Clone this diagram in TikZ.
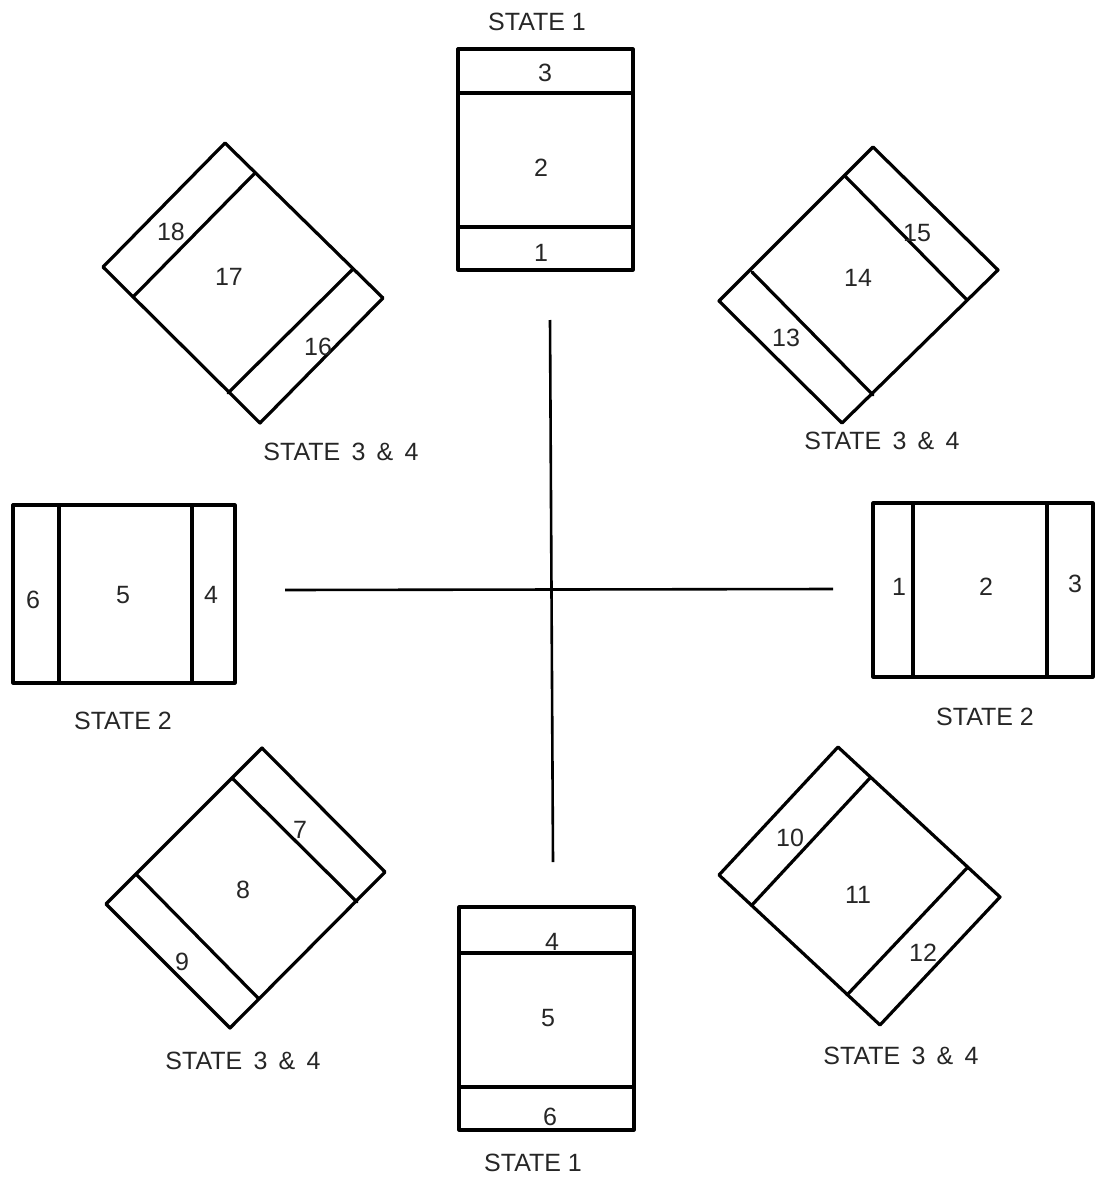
\documentclass[tikz,border=0pt]{standalone}
\usepackage{fontspec}
\setmainfont{Liberation Sans}
\newcommand{\wsp}{\hspace{0.45em}}
\begin{document}
\begin{tikzpicture}[x=1pt,y=-1pt,
  box/.style={line width=3.2pt, line join=round, line cap=round},
  axisline/.style={line width=2.6pt},
  lbl/.style={font=\fontsize{25}{25}\selectfont, inner sep=0pt, anchor=center, text=black!85}]
\useasboundingbox (0,0) rectangle (1100,1180);

% ---- cross ----
\coordinate (vt) at (550,320);
\coordinate (vb) at (553,862);
\coordinate (hl) at (285,590);
\coordinate (hr) at (833,589);
\draw[axisline] (vt) -- (vb);
\draw[axisline] (hl) -- (hr);

% ---- top rectangle (STATE 1) ----
\draw[box] (458,49) rectangle (633,270);
\draw[box] (458,93) -- (633,93);
\draw[box] (458,227) -- (633,227);
\node[lbl] (st1top) at (537,22) {STATE 1};
\node[lbl] (t3) at (545,73) {3};
\node[lbl] (t2) at (541,168) {2};
\node[lbl] (t1) at (541,253) {1};

% ---- bottom rectangle (STATE 1) ----
\draw[box] (459,907) rectangle (634,1130);
\draw[box] (459,953) -- (634,953);
\draw[box] (459,1087) -- (634,1087);
\node[lbl] (st1bot) at (533,1163) {STATE 1};
\node[lbl] (b4) at (552,942) {4};
\node[lbl] (b5) at (548,1018) {5};
\node[lbl] (b6) at (550,1117) {6};

% ---- left rectangle (STATE 2) ----
\draw[box] (13,505) rectangle (235,683);
\draw[box] (59,505) -- (59,683);
\draw[box] (192,505) -- (192,683);
\node[lbl] (st2left) at (123,721) {STATE 2};
\node[lbl] (l6) at (33,600) {6};
\node[lbl] (l5) at (123,595) {5};
\node[lbl] (l4) at (211,595) {4};

% ---- right rectangle (STATE 2) ----
\draw[box] (873,503) rectangle (1093,677);
\draw[box] (913,503) -- (913,677);
\draw[box] (1047,503) -- (1047,677);
\node[lbl] (st2right) at (985,717) {STATE 2};
\node[lbl] (r1) at (899,587) {1};
\node[lbl] (r2) at (986,587) {2};
\node[lbl] (r3) at (1075,584) {3};

% ---- top-left diamond ----
\draw[box] (225,143) -- (383,298) -- (260,423) -- (103,267) -- cycle;
\draw[box] (255,173) -- (133,297);
\draw[box] (352,270) -- (228,393);
\node[lbl] (tl18) at (171,232) {18};
\node[lbl] (tl17) at (229,277) {17};
\node[lbl] (tl16) at (318,347) {16};
\node[lbl] (st34tl) at (341,452) {STATE\wsp 3\wsp\&\wsp 4};

% ---- top-right diamond ----
\draw[box] (873,147) -- (998,270) -- (842,423) -- (719,301) -- cycle;
\draw[box] (845,176) -- (967,300);
\draw[box] (752,272) -- (873,395);
\node[lbl] (tr15) at (917,233) {15};
\node[lbl] (tr14) at (858,278) {14};
\node[lbl] (tr13) at (786,338) {13};
\node[lbl] (st34tr) at (882,441) {STATE\wsp 3\wsp\&\wsp 4};

% ---- bottom-left diamond ----
\draw[box] (262,748) -- (385,872) -- (230,1028) -- (106,904) -- cycle;
\draw[box] (232,778) -- (357,902);
\draw[box] (137,875) -- (258,998);
\node[lbl] (bl7) at (300,830) {7};
\node[lbl] (bl8) at (243,890) {8};
\node[lbl] (bl9) at (182,962) {9};
\node[lbl] (st34bl) at (243,1061) {STATE\wsp 3\wsp\&\wsp 4};

% ---- bottom-right diamond ----
\draw[box] (838,747) -- (1000,897) -- (880,1025) -- (719,875) -- cycle;
\draw[box] (870,778) -- (752,905);
\draw[box] (967,868) -- (847,995);
\node[lbl] (br10) at (790,838) {10};
\node[lbl] (br11) at (858,895) {11};
\node[lbl] (br12) at (923,953) {12};
\node[lbl] (st34br) at (901,1056) {STATE\wsp 3\wsp\&\wsp 4};
\end{tikzpicture}
\end{document}
